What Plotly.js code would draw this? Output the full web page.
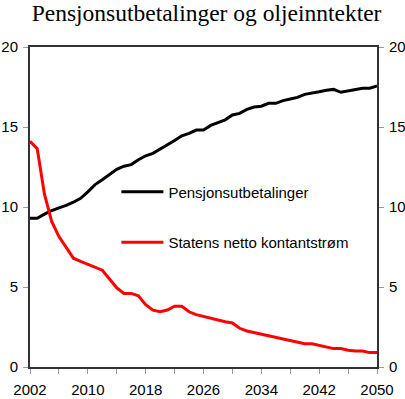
<!DOCTYPE html>
<html>
<head>
<meta charset="utf-8">
<script src="https://cdn.plot.ly/plotly-3.0.1.min.js"></script>
<style>html,body{margin:0;padding:0;background:#fff}#chart{width:405px;height:399px}</style>
</head>
<body>
<div id="chart"></div>
<script>
const years = [];
for (let y = 2002; y <= 2050; y++) years.push(y);

const pensjon = [9.3, 9.3, 9.55, 9.78, 9.95, 10.1, 10.3, 10.54, 10.95, 11.4,
  11.7, 12.0, 12.35, 12.55, 12.65, 12.95, 13.2, 13.35, 13.6, 13.9,
  14.15, 14.45, 14.6, 14.81, 14.81, 15.1, 15.3, 15.45, 15.75, 15.85,
  16.1, 16.25, 16.3, 16.48, 16.48, 16.65, 16.75, 16.85, 17.04, 17.1,
  17.2, 17.3, 17.35, 17.17, 17.25, 17.35, 17.42, 17.42, 17.56];

const statens = [14.1, 13.65, 10.8, 9.1, 8.15, 7.45, 6.8, 6.6, 6.4, 6.2,
  6.05, 5.5, 4.95, 4.6, 4.6, 4.45, 3.9, 3.55, 3.46, 3.56,
  3.8, 3.8, 3.45, 3.27, 3.15, 3.05, 2.92, 2.83, 2.75, 2.42,
  2.25, 2.15, 2.05, 1.95, 1.85, 1.75, 1.65, 1.55, 1.45, 1.45,
  1.35, 1.22, 1.15, 1.15, 1.05, 1.0, 1.0, 0.9, 0.9];

const seriesNames = ['Pensjonsutbetalinger', 'Statens netto kontantstrøm'];
const titleText = 'Pensjonsutbetalinger og oljeinntekter';
const xTickVals = [2002, 2010, 2018, 2026, 2034, 2042, 2050];
const yTickVals = [0, 5, 10, 15, 20];

const traces = [
  {x: years, y: pensjon, name: seriesNames[0], type: 'scatter', mode: 'lines',
   line: {color: '#000000', width: 3}, legendgroup: 'a'},
  {x: years, y: statens, name: seriesNames[1], type: 'scatter', mode: 'lines',
   line: {color: '#ff0000', width: 3}, legendgroup: 'b'},
  {x: [2002], y: [null], yaxis: 'y2', showlegend: false, hoverinfo: 'skip',
   type: 'scatter', mode: 'lines'}
];

const axisFont = {family: 'Liberation Sans, Arial, sans-serif', size: 15, color: '#000'};

const layout = {
  width: 405, height: 399,
  margin: {l: 29.5, r: 28, t: 47, b: 32, pad: 0},
  paper_bgcolor: '#fff', plot_bgcolor: '#fff',
  title: {text: titleText, font: {family: 'Liberation Serif, Times New Roman, serif', size: 23.5, color: '#000'},
          x: 0.51, xanchor: 'center', xref: 'container', y: 0.967, yanchor: 'middle', yref: 'container'},
  showlegend: true,
  legend: {x: 0.249, xanchor: 'left', y: 0.339, yanchor: 'bottom', yref: 'paper',
           bgcolor: 'rgba(0,0,0,0)', borderwidth: 0, font: axisFont,
           traceorder: 'grouped', tracegroupgap: 28, itemwidth: 42},
  xaxis: {range: [2002, 2050], tickvals: xTickVals, ticktext: xTickVals.map(String),
          showgrid: false, zeroline: false, showline: true, linecolor: '#333', linewidth: 2,
          mirror: true, ticks: 'outside', ticklen: 5, tickcolor: '#999', tickwidth: 1,
          minor: {dtick: 4, tick0: 2002, ticks: 'outside', ticklen: 5, tickcolor: '#999', showgrid: false},
          tickfont: axisFont, ticklabelstandoff: 3},
  yaxis: {range: [0, 20], tickvals: yTickVals, showgrid: false, zeroline: false,
          showline: true, linecolor: '#333', linewidth: 2, ticks: 'outside', ticklen: 5,
          tickcolor: '#999', tickwidth: 1, tickfont: axisFont, ticklabelstandoff: 2},
  yaxis2: {range: [0, 20], tickvals: yTickVals, overlaying: 'y', side: 'right',
           showgrid: false, zeroline: false, showline: true, linecolor: '#333', linewidth: 2,
           ticks: 'outside', ticklen: 5, tickcolor: '#999', tickwidth: 1, tickfont: axisFont,
           ticklabelstandoff: 2}
};

Plotly.newPlot('chart', traces, layout, {displayModeBar: false, staticPlot: true});
</script>
</body>
</html>
